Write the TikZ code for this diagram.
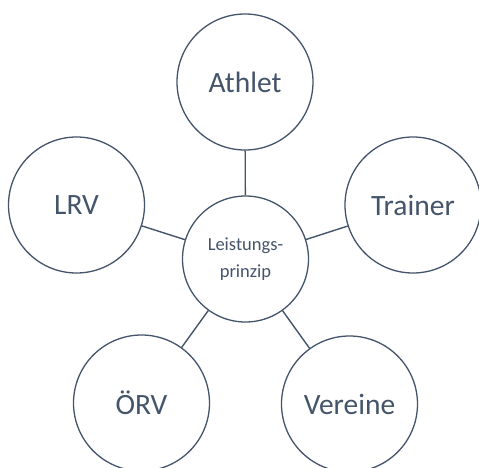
\documentclass[tikz,border=0pt]{standalone}
\usepackage{fontspec}
\setmainfont{Carlito}
\definecolor{slate}{HTML}{44546A}
\begin{document}
\begin{tikzpicture}[x=1pt,y=-1pt,
  bubble/.style={circle, draw=slate, line width=1.3pt, fill=white, text=slate, inner sep=0pt, minimum size=136pt, font=\fontsize{29.5}{34}\selectfont},
  hub/.style={circle, draw=slate, line width=1.3pt, fill=white, text=slate, inner sep=0pt, minimum size=126pt, align=center, font=\fontsize{18.5}{27}\selectfont},
  link/.style={draw=slate, line width=1.4pt}]
\useasboundingbox (0,0) rectangle (479,467);
\clip (0,0) rectangle (479,467);
\node[hub] (c) at (245.5,259) {Leistungs-\\prinzip};
\node[bubble] (ath) at (245,82) {Athlet};
\node[bubble] (lrv) at (76.5,205) {LRV};
\node[bubble] (tr) at (413,205) {Trainer};
\node[bubble] (orv) at (141.5,403) {ÖRV};
\node[bubble] (ver) at (349.5,404) {Vereine};
\draw[link] (c) -- (ath);
\draw[link] (c) -- (lrv);
\draw[link] (c) -- (tr);
\draw[link] (c) -- (orv);
\draw[link] (c) -- (ver);
\end{tikzpicture}
\end{document}
